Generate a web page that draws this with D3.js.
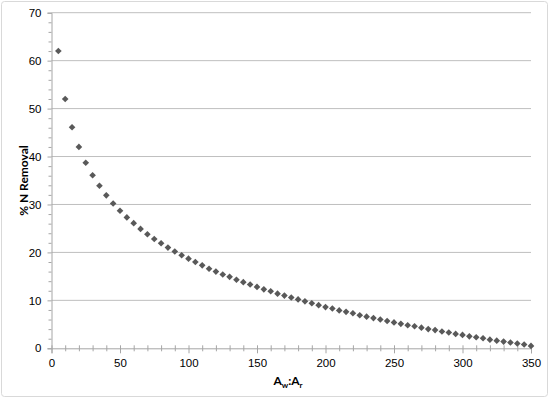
<!DOCTYPE html>
<html><head><meta charset="utf-8">
<script src="https://cdn.jsdelivr.net/npm/d3@7"></script>
<style>body{margin:0;background:#fff;} svg{display:block;font-family:Lato, "Open Sans", sans-serif;}</style>
</head><body>
<svg id="c" width="550" height="401"></svg>
<script>
const ratio = [5,10,15,20,25,30,35,40,45,50,55,60,65,70,75,80,85,90,95,100,
  105,110,115,120,125,130,135,140,145,150,155,160,165,170,175,180,185,190,195,200,
  205,210,215,220,225,230,235,240,245,250,255,260,265,270,275,280,285,290,295,300,
  305,310,315,320,325,330,335,340,345,350];
const removal = [62.0,52.0,46.1,42.0,38.7,36.1,33.9,31.9,30.2,28.7,27.3,26.1,24.9,23.8,22.8,21.9,21.0,20.2,19.4,18.7,
  18.0,17.3,16.6,16.0,15.4,14.9,14.3,13.8,13.3,12.8,12.3,11.9,11.4,11.0,10.6,10.2,9.8,9.4,9.0,8.6,
  8.3,7.9,7.6,7.3,6.9,6.6,6.3,6.0,5.7,5.4,5.1,4.8,4.6,4.3,4.0,3.8,3.5,3.3,3.0,2.8,
  2.5,2.3,2.1,1.8,1.6,1.4,1.2,1.0,0.8,0.5];
const xTicks = [0,50,100,150,200,250,300,350];
const yTicks = [0,10,20,30,40,50,60,70];

const svg = d3.select("#c");
svg.append("rect").attr("x",1.5).attr("y",1.5).attr("width",546).attr("height",395)
  .attr("rx",3).attr("fill","#fff").attr("stroke","#d9d9d9");

const L=51.5, R=531, T=12.7, B=348.3;
const x = d3.scaleLinear().domain([0,350]).range([L,R]);
const y = d3.scaleLinear().domain([0,70]).range([B,T]);

// gridlines
svg.append("g").selectAll("line").data(yTicks.filter(d=>d>0)).join("line")
  .attr("x1",L).attr("x2",R).attr("y1",d=>y(d)).attr("y2",d=>y(d))
  .attr("stroke","#bfbfbf").attr("stroke-width",1);

// y axis
const yAx = svg.append("g").attr("transform",`translate(${L},0)`)
  .call(d3.axisLeft(y).tickValues(yTicks).tickSize(4).tickPadding(6));
yAx.select(".domain").attr("stroke","#a6a6a6");
yAx.selectAll(".tick line").attr("stroke","#a6a6a6");
yAx.selectAll("text").attr("font-size",11.5).attr("fill","#000");
svg.append("g").attr("transform",`translate(${L},0)`)
  .call(d3.axisLeft(y).tickValues(d3.range(0,71,2).filter(d=>d%10)).tickSize(3).tickFormat(""))
  .call(g=>{g.select(".domain").remove();g.selectAll("line").attr("stroke","#a6a6a6");});

// x axis
const xAx = svg.append("g").attr("transform",`translate(0,${B})`)
  .call(d3.axisBottom(x).tickValues(xTicks).tickSize(5).tickPadding(6));
xAx.select(".domain").attr("stroke","#a6a6a6");
xAx.selectAll(".tick line").attr("stroke","#a6a6a6").attr("y1",-3);
xAx.selectAll("text").attr("font-size",11.5).attr("fill","#000");
svg.append("g").attr("transform",`translate(0,${B})`)
  .call(d3.axisBottom(x).tickValues(d3.range(0,351,10).filter(d=>d%50)).tickSize(3).tickFormat(""))
  .call(g=>{g.select(".domain").remove();g.selectAll("line").attr("stroke","#a6a6a6").attr("y1",-3);});

// points
svg.append("g").selectAll("path").data(ratio.map((r,i)=>[r,removal[i]])).join("path")
  .attr("d", d3.symbol().type(d3.symbolSquare).size(22))
  .attr("transform",d=>`translate(${x(d[0])},${y(d[1])}) rotate(45)`)
  .attr("fill","#595959");

// axis titles
svg.append("text").attr("transform",`translate(28,${(T+B)/2}) rotate(-90)`)
  .attr("text-anchor","middle").attr("font-size",12).attr("font-weight","bold").text("% N Removal");
const xt = svg.append("text").attr("x",288).attr("y",385).attr("text-anchor","middle")
  .attr("font-size",12).attr("font-weight","bold");
xt.append("tspan").text("A");
xt.append("tspan").attr("font-size",8).attr("dy",3).text("w");
xt.append("tspan").attr("dy",-3).text(":A");
xt.append("tspan").attr("font-size",8).attr("dy",3).text("r");
</script>
</body></html>
